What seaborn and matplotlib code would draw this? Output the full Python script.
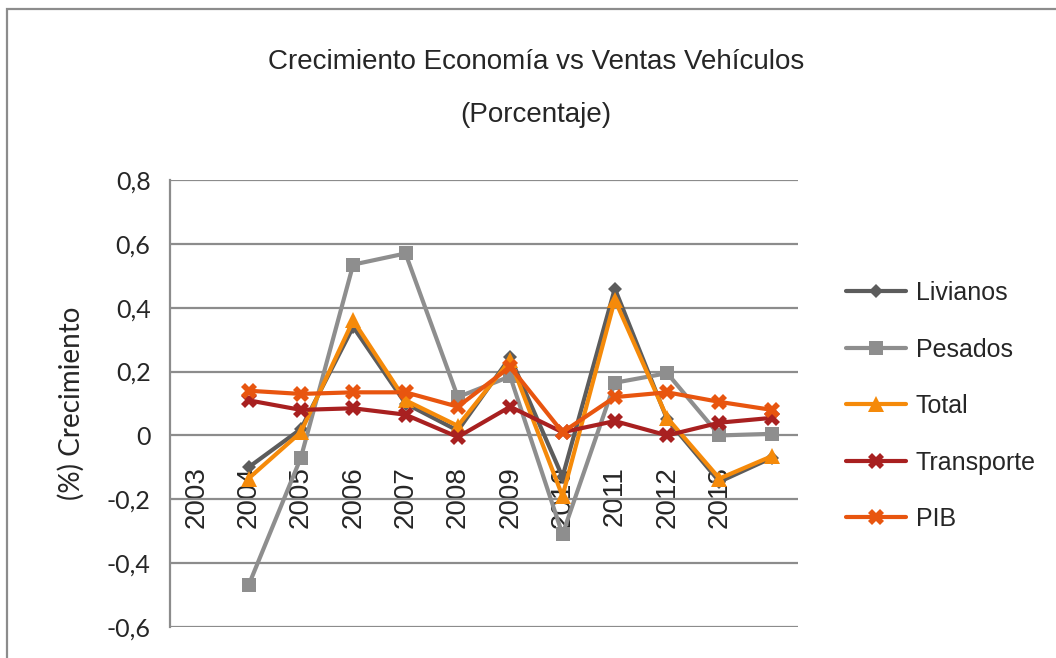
import numpy as np
import pandas as pd
import matplotlib
matplotlib.use("Agg")
from matplotlib import pyplot as plt
from matplotlib.patches import Rectangle
import seaborn as sns

# categorias del eje x (la primera sin datos, la ultima sin etiqueta)
years = ['2003', '2004', '2005', '2006', '2007', '2008', '2009', '2010', '2011', '2012', '2013', '']

livianos   = [None, -0.10, 0.02, 0.34, 0.10, 0.015, 0.245, -0.13, 0.46, 0.05, -0.145, -0.07]
pesados    = [None, -0.47, -0.07, 0.535, 0.57, 0.12, 0.185, -0.31, 0.165, 0.195, 0.0, 0.005]
total      = [None, -0.135, 0.01, 0.36, 0.11, 0.03, 0.235, -0.19, 0.425, 0.055, -0.135, -0.065]
transporte = [None, 0.11, 0.08, 0.085, 0.065, -0.005, 0.09, 0.01, 0.045, 0.0, 0.04, 0.055]
pib        = [None, 0.14, 0.13, 0.135, 0.135, 0.09, 0.215, 0.01, 0.12, 0.135, 0.105, 0.08]

series = ['Livianos', 'Pesados', 'Total', 'Transporte', 'PIB']
colores = ['#5c5c5c', '#8e8e8e', '#f58a0a', '#a82020', '#e8550f']
marcadores = ['D', 's', '^', 'X', 'X']
tamanos = [7, 10, 11, 11, 11]

pos = np.arange(len(years))
rows = []
for name, vals in zip(series, [livianos, pesados, total, transporte, pib]):
    for p, v in zip(pos, vals):
        if v is not None:
            rows.append({'pos': p, 'valor': v, 'serie': name})
df = pd.DataFrame(rows)

sns.set_style("white")
plt.rcParams['font.family'] = ['Liberation Sans', 'DejaVu Sans']

fig = plt.figure(figsize=(10.56, 6.58), dpi=100)
ax = fig.add_axes([170/1056, 1-627/658, 628/1056, 447/658])

for name, c, m, ms in zip(series, colores, marcadores, tamanos):
    sub = df[df['serie'] == name]
    sns.lineplot(data=sub, x='pos', y='valor', color=c, marker=m, markersize=ms,
                 markeredgewidth=0, linewidth=3, label=name, ax=ax)

# el eje x cruza en 0 (antes de poner las etiquetas, porque set_position las reinicia)
ax.spines['bottom'].set_position(('data', 0))
ax.spines['bottom'].set_visible(False)
ax.spines['top'].set_visible(False)
ax.spines['right'].set_visible(False)
ax.spines['left'].set_color('#8c8c8c')
ax.spines['left'].set_linewidth(1.6)

ax.set_ylim(-0.6, 0.8)
ax.set_xlim(-0.5, len(years) - 0.5)
yt = np.round(np.arange(-0.6, 0.81, 0.2), 1)
ax.set_yticks(yt)
ax.set_yticklabels([('0' if v == 0 else f'{v:.1f}'.replace('.', ',')) for v in yt],
                   fontsize=18, family=['Lato', 'DejaVu Sans'])
ax.yaxis.grid(True, color='#8c8c8c', linewidth=1.6)
ax.set_axisbelow(True)

ax.set_xticks(pos)
ax.set_xticklabels(years, rotation=90, fontsize=20, va='top', ha='center')
ax.tick_params(axis='x', length=0, pad=22)
ax.tick_params(axis='y', length=0, pad=14)
ax.set_xlabel('')
ax.set_ylabel('(%) Crecimiento', fontsize=20, family=['Lato', 'DejaVu Sans'], labelpad=16)

ax.legend(loc='center left', bbox_to_anchor=(1.04, 0.494), frameon=False, fontsize=18,
          handlelength=2.4, labelspacing=1.3, handletextpad=0.4)

fig.text(536/1056, 1-62/658, 'Crecimiento Economía vs Ventas Vehículos', ha='center', va='center',
         fontsize=20)
fig.text(536/1056, 1-115/658, '(Porcentaje)', ha='center', va='center', fontsize=20)

# marco del grafico
fig.patches.append(Rectangle((7/1056, -0.1), 1.2, 1 - 9/658 + 0.1, transform=fig.transFigure,
                             fill=False, edgecolor='#8c8c8c', linewidth=1.6))

fig.savefig('out.png', dpi=100)
